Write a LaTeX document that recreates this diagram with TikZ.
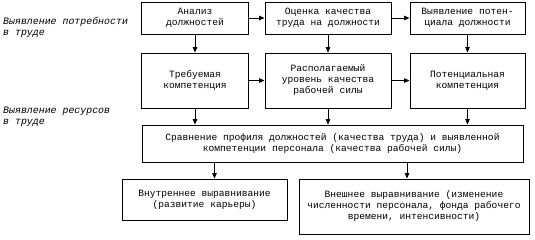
\documentclass[tikz,border=0pt]{standalone}
\usepackage{fontspec}
\setmainfont{Liberation Mono}
\usetikzlibrary{arrows.meta}
\begin{document}
\begin{tikzpicture}[x=1pt,y=-1pt,
  box/.style={draw, line width=0.9pt, inner sep=0pt, align=center, font=\fontsize{9.6}{11}\selectfont},
  arr/.style={-{Triangle[length=5.5pt,width=4.5pt]}, line width=0.9pt},
  lbl/.style={anchor=west, align=left, inner sep=0pt, font=\itshape\fontsize{9.9}{11}\selectfont}]
\useasboundingbox (0,0) rectangle (535,239);
\node[box, minimum width=107pt, minimum height=32pt] (b1) at (195,18) {Анализ\\должностей};
\node[box, minimum width=126pt, minimum height=32pt] (b2) at (328,18) {Оценка качества\\труда на должности};
\node[box, minimum width=115pt, minimum height=32pt] (b3) at (467.5,18) {Выявление потен-\\циала должности};
\node[box, minimum width=107pt, minimum height=55pt] (b4) at (195,80.5) {Требуемая\\компетенция};
\node[box, minimum width=126pt, minimum height=55pt] (b5) at (328,80.5) {Располагаемый\\уровень качества\\рабочей силы};
\node[box, minimum width=115pt, minimum height=55pt] (b6) at (467.5,80.5) {Потенциальная\\компетенция};
\node[box, minimum width=381pt, minimum height=37pt] (b7) at (332.5,143.5) {Сравнение профиля должностей (качества труда) и  выявленной\\компетенции персонала (качества рабочей силы)};
\node[box, minimum width=165pt, minimum height=41pt] (b8) at (204.5,199.5) {Внутреннее выравнивание\\(развитие карьеры)};
\node[box, minimum width=230pt, minimum height=55pt] (b9) at (414,206.5) {Внешнее выравнивание (изменение\\численности персонала, фонда рабочего\\времени, интенсивности)};
\node[lbl] (l1) at (3,27.5) {Выявление потребности\\в труде};
\node[lbl] (l2) at (3,116.5) {Выявление ресурсов\\в труде};
\draw[arr] (b1) -- (b2);
\draw[arr] (b2) -- (b3);
\draw[arr] (b4) -- (b5);
\draw[arr] (b5) -- (b6);
\draw[arr] (b1) -- (b4);
\draw[arr] (b2) -- (b5);
\draw[arr] (b3) -- (b6);
\draw[arr] (b4.south) -- (b4.south |- b7.north);
\draw[arr] (b5.south) -- (b5.south |- b7.north);
\draw[arr] (b6.south) -- (b6.south |- b7.north);
\draw[arr] ([xshift=10pt]b8.north |- b7.south) -- ([xshift=10pt]b8.north);
\draw[arr] ([xshift=-7pt]b9.north |- b7.south) -- ([xshift=-7pt]b9.north);
\end{tikzpicture}
\end{document}
